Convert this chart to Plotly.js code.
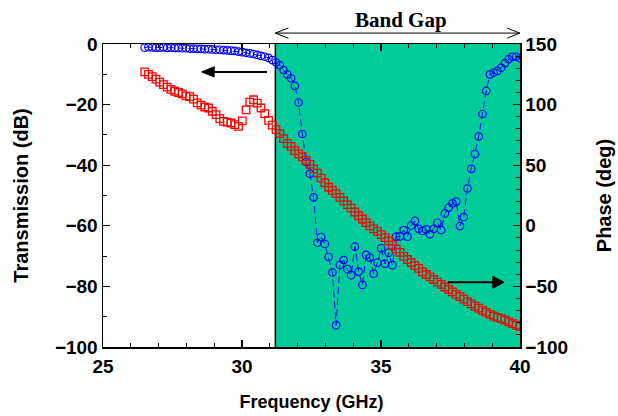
<!DOCTYPE html>
<html>
<head>
<meta charset="utf-8">
<script src="https://cdn.plot.ly/plotly-3.0.1.min.js"></script>
<style>html,body{margin:0;padding:0;background:#fff}#chart{width:618px;height:416px}</style>
</head>
<body>
<div id="chart"></div>
<script>
// Frequency (GHz)
var freq = [26.50,26.635,26.77,26.905,27.04,27.175,27.31,27.445,27.58,27.715,
27.85,27.985,28.12,28.255,28.39,28.525,28.66,28.795,28.93,29.065,
29.20,29.335,29.47,29.605,29.74,29.875,30.01,30.145,30.28,30.415,
30.55,30.685,30.82,30.955,31.09,31.225,31.36,31.495,31.63,31.765,
31.90,32.035,32.17,32.305,32.44,32.575,32.71,32.845,32.98,33.115,
33.25,33.385,33.52,33.655,33.79,33.925,34.06,34.195,34.33,34.465,
34.60,34.735,34.87,35.005,35.14,35.275,35.41,35.545,35.68,35.815,
35.95,36.085,36.22,36.355,36.49,36.625,36.76,36.895,37.03,37.165,
37.30,37.435,37.57,37.705,37.84,37.975,38.11,38.245,38.38,38.515,
38.65,38.785,38.92,39.055,39.19,39.325,39.46,39.595,39.73,39.865,
40.00];

// Transmission (dB), left axis
var transmission = [-1.2,-1.0,-1.1,-1.2,-1.2,-1.1,-1.3,-1.2,-1.3,-1.3,
-1.4,-1.4,-1.5,-1.5,-1.6,-1.6,-1.7,-1.7,-1.8,-1.9,
-1.9,-2.0,-2.1,-2.2,-2.3,-2.5,-2.7,-2.9,-3.1,-3.3,
-3.6,-3.9,-4.2,-4.6,-5.3,-6.1,-7.0,-8.6,-10.0,-11.3,
-13.8,-19.3,-29.7,-39.0,-42.8,-50.6,-65.6,-63.7,-66.0,-70.3,
-75.4,-92.8,-72.9,-71.3,-74.3,-76.3,-66.9,-75.1,-79.5,-69.6,
-70.5,-75.8,-72.2,-67.4,-72.5,-68.9,-73.0,-63.6,-63.5,-61.4,
-63.6,-59.9,-58.4,-61.0,-61.7,-61.2,-62.8,-61.0,-59.0,-61.4,
-55.9,-54.0,-52.6,-52.0,-60.1,-57.1,-47.7,-41.2,-36.3,-30.5,
-23.1,-15.5,-10.0,-9.4,-8.9,-7.8,-6.3,-5.0,-4.2,-4.2,
-4.7];

// Phase (deg), right axis
var phase = [127,125,123,121,118.5,116.5,114.5,112.5,111,110,
108.9,107.2,106.5,104.5,101.5,99.5,98,97.2,94.5,91.8,
88.5,86.2,85.6,84.8,83.5,82,86.5,95.7,102,104,
101.2,97.2,92.5,87,83,79.3,76,72,68,65.5,
62,59.3,56.8,54,50.6,47,43.5,39.3,35.5,31.8,
29.2,26.6,23.4,20.5,17.4,14.6,11.4,8.3,5.6,2.7,
0,-2.5,-4.6,-7.3,-9.7,-12.5,-16,-19,-22,-25.2,
-27.8,-30.3,-32.8,-35.2,-38,-40.2,-42.2,-44.3,-46.4,-48.4,
-50.5,-52.5,-54.5,-56.5,-58.5,-60.5,-62.5,-64.4,-66.2,-68,
-69.7,-71.4,-73,-74.5,-75.6,-76.6,-77.8,-79.3,-80.7,-82,
-83.2];

var xTicks = [25,30,35,40];
var bandGap = [31.2, 40];

var FONT = 'Liberation Sans, Arial, Helvetica, sans-serif';
var tickFont = {family: FONT, size: 19, color: '#000', weight: 700};
var xTitleFont = {family: FONT, size: 18, color: '#000', weight: 700};
var yTitleFont = {family: FONT, size: 20, color: '#000', weight: 700};

var traces = [
  {
    x: freq, y: phase, yaxis: 'y2', type: 'scatter', mode: 'markers',
    marker: {symbol: 'square-open', size: 7.5, color: '#ff0000', line: {width: 1.3, color: '#ff0000'}},
    hoverinfo: 'none'
  },
  {
    x: freq, y: transmission, yaxis: 'y', type: 'scatter', mode: 'lines+markers',
    line: {color: '#0000ff', width: 1, dash: '7px,4px'},
    marker: {symbol: 'circle-open', size: 7.5, color: '#0000ff', line: {width: 1.2, color: '#0000ff'}},
    hoverinfo: 'none'
  }
];

var axisCommon = {
  showline: true, linecolor: '#000', linewidth: 1.5,
  ticks: 'inside', ticklen: 7, tickwidth: 1.2, tickcolor: '#000',
  showgrid: false, zeroline: false, tickfont: tickFont
};

var layout = {
  width: 618, height: 416,
  margin: {l: 103, r: 98, t: 44, b: 69, pad: 0},
  paper_bgcolor: '#fff', plot_bgcolor: '#fff',
  showlegend: false,
  xaxis: Object.assign({}, axisCommon, {
    range: [25, 40], tickvals: xTicks, mirror: 'ticks', ticklabelstandoff: 2,
    minor: {dtick: 1, tick0: 25, ticks: 'inside', ticklen: 4, tickwidth: 1, tickcolor: '#000'},
    title: {text: 'Frequency (GHz)', font: xTitleFont, standoff: 19}
  }),
  yaxis: Object.assign({}, axisCommon, {
    range: [-100, 0], dtick: 20, tick0: 0,
    minor: {dtick: 10, ticks: 'inside', ticklen: 4, tickwidth: 1, tickcolor: '#000'},
    title: {text: 'Transmission (dB)', font: yTitleFont, standoff: 21}
  }),
  yaxis2: Object.assign({}, axisCommon, {
    overlaying: 'y', side: 'right',
    range: [-100, 150], dtick: 50, tick0: 0,
    minor: {dtick: 10, ticks: 'inside', ticklen: 4, tickwidth: 1, tickcolor: '#000'},
    title: {text: 'Phase (deg)', font: yTitleFont, standoff: 30}
  }),
  shapes: [
    {type: 'rect', xref: 'x', yref: 'paper', x0: bandGap[0], x1: bandGap[1], y0: 0, y1: 1,
     fillcolor: '#00cc99', line: {width: 0}, layer: 'below'},
    {type: 'line', xref: 'x', yref: 'paper', x0: bandGap[0], x1: bandGap[0], y0: 0, y1: 1,
     line: {color: '#000', width: 1.5}, layer: 'below'},
    // band gap double arrow
    {type: 'line', xref: 'x', yref: 'paper', x0: bandGap[0], x1: bandGap[1], y0: 1.036, y1: 1.036,
     line: {color: '#000', width: 1}},
    {type: 'path', xref: 'x', yref: 'paper', path: 'M31.67,1.053 L31.2,1.036 L31.67,1.019',
     line: {color: '#000', width: 1}},
    {type: 'path', xref: 'x', yref: 'paper', path: 'M39.53,1.053 L39.99,1.036 L39.53,1.019',
     line: {color: '#000', width: 1}},
    // left arrow (transmission -> left axis)
    {type: 'line', xref: 'x', yref: 'y', x0: 28.9, x1: 30.9, y0: -9.2, y1: -9.2,
     line: {color: '#000', width: 2}},
    {type: 'path', xref: 'x', yref: 'y', path: 'M28.55,-9.2 L29.0,-7.5 L29.0,-10.9 Z',
     fillcolor: '#000', line: {color: '#000', width: 1}},
    // right arrow (phase -> right axis)
    {type: 'line', xref: 'x', yref: 'y2', x0: 37.41, x1: 39.1, y0: -46.6, y1: -46.6,
     line: {color: '#000', width: 2}},
    {type: 'path', xref: 'x', yref: 'y2', path: 'M39.42,-46.6 L39.02,-41.6 L39.02,-51.6 Z',
     fillcolor: '#000', line: {color: '#000', width: 1}}
  ],
  annotations: [
    {text: 'Band Gap', xref: 'x', yref: 'paper', x: 35.72, y: 1.08, showarrow: false,
     xanchor: 'center', yanchor: 'middle',
     font: {family: 'Liberation Serif, Times New Roman, serif', size: 21, color: '#000', weight: 700}}
  ]
};

Plotly.newPlot('chart', traces, layout, {staticPlot: true, displayModeBar: false});
</script>
</body>
</html>
